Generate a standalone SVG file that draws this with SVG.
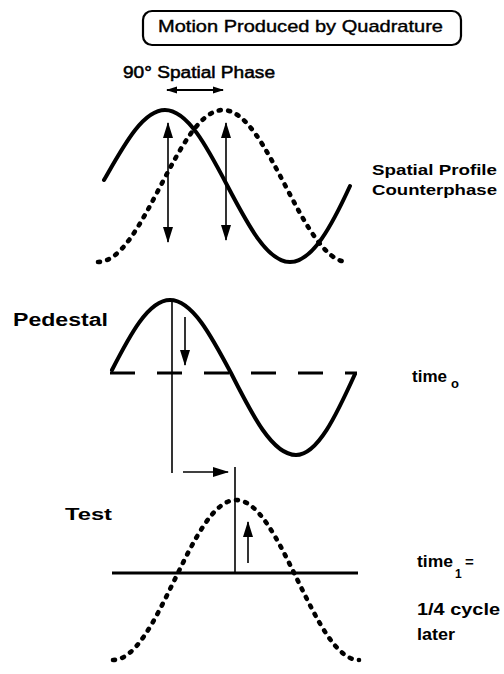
<svg xmlns="http://www.w3.org/2000/svg" width="504" height="674" viewBox="0 0 504 674">
<style>
.t{font-family:"Liberation Sans",Arial,sans-serif;fill:#000}
.b{font-weight:bold}
.solid{fill:none;stroke:#000;stroke-width:4;stroke-linecap:round}
.dot{fill:none;stroke:#000;stroke-width:4.6;stroke-linecap:round;stroke-dasharray:2 7.5}
.thin{fill:none;stroke:#000;stroke-width:1.6}
.ar{fill:none;stroke:#000;stroke-width:1.6}
</style>
<defs>
<marker id="ah" markerUnits="userSpaceOnUse" markerWidth="16" markerHeight="12" viewBox="0 0 16 12" refX="15" refY="6" orient="auto-start-reverse">
<path d="M0,1 L16,6 L0,11 Z" fill="#000"/>
</marker>
<marker id="ahs" markerUnits="userSpaceOnUse" markerWidth="11" markerHeight="8" viewBox="0 0 11 8" refX="10" refY="4" orient="auto-start-reverse">
<path d="M0,0.5 L11,4 L0,7.5 Z" fill="#000"/>
</marker>
</defs>
<rect width="504" height="674" fill="#fff"/>

<g id="title">
<rect x="143" y="11" width="318" height="34" rx="9" fill="none" stroke="#000" stroke-width="2.2"/>
<text class="t" x="158" y="32" font-size="17" textLength="285" lengthAdjust="spacingAndGlyphs" stroke="#000" stroke-width="0.4">Motion Produced by Quadrature</text>
</g>

<g id="phase-label">
<text class="t" x="123" y="78" font-size="16" textLength="152" lengthAdjust="spacingAndGlyphs" stroke="#000" stroke-width="0.5">90° Spatial Phase</text>
</g>

<g id="spatial-profile">
<path class="dot" d="M98,262 C120.6,262 140.1,224.9 160.5,186 C180.9,147.1 200.4,110 223,110 C245.6,110 265.1,147.1 285.5,186 C305.9,224.9 325.4,262 348,262"/>
<path class="solid" d="M104,180 C122.9,147.1 142.4,110 165,110 C187.6,110 207.1,147.1 227.5,186 C247.9,224.9 267.4,262 290,262 C312.6,262 332.1,224.9 350,186"/>
<text class="t b" x="372" y="175" font-size="15" textLength="125" lengthAdjust="spacingAndGlyphs">Spatial Profile</text>
<text class="t b" x="372" y="195" font-size="15" textLength="125" lengthAdjust="spacingAndGlyphs">Counterphase</text>
</g>

<g id="pedestal">
<text class="t b" x="13" y="326" font-size="18" textLength="95" lengthAdjust="spacingAndGlyphs">Pedestal</text>
<line x1="110" y1="373" x2="357" y2="373" stroke="#000" stroke-width="3" stroke-dasharray="25 22"/>
<path class="solid" d="M112,370 C129.6,335.6 148.3,300 170,300 C192.1,300 211.1,335.6 231,373 C252.2,415 272.5,455 296,455 C317.7,455 336.4,415 355,374"/>
<text class="t b" x="412" y="382" font-size="16" textLength="35" lengthAdjust="spacingAndGlyphs">time</text>
<text class="t b" x="451" y="388" font-size="13">o</text>
</g>

<g id="test">
<text class="t b" x="65" y="520" font-size="16" textLength="47" lengthAdjust="spacingAndGlyphs">Test</text>
<line x1="112" y1="573" x2="358" y2="573" stroke="#000" stroke-width="3"/>
<path class="dot" d="M113,660 C135.3,660 154.5,621 174.5,580 C194.5,539 213.7,500 236,500 C258.3,500 277.5,539 297.5,580 C317.5,621 336.7,660 359,660"/>
<text class="t b" x="417" y="567" font-size="16" textLength="36" lengthAdjust="spacingAndGlyphs">time</text>
<text class="t b" x="455" y="578" font-size="12">1</text>
<text class="t b" x="465" y="567" font-size="15">=</text>
<text class="t b" x="417" y="615" font-size="16" textLength="83" lengthAdjust="spacingAndGlyphs">1/4 cycle</text>
<text class="t b" x="417" y="640" font-size="16" textLength="38" lengthAdjust="spacingAndGlyphs">later</text>
</g>

<g id="connectors">
<line x1="167" y1="90" x2="223" y2="90" stroke="#000" stroke-width="2.2" marker-start="url(#ahs)" marker-end="url(#ahs)"/>
<line class="ar" x1="168" y1="123" x2="168" y2="242" marker-start="url(#ah)" marker-end="url(#ah)"/>
<line class="ar" x1="226" y1="123" x2="226" y2="240" marker-start="url(#ah)" marker-end="url(#ah)"/>
<line class="thin" x1="172" y1="300" x2="172" y2="473"/>
<line class="ar" x1="185" y1="317" x2="185" y2="365" marker-end="url(#ah)"/>
<line class="ar" x1="183" y1="472" x2="228" y2="472" marker-end="url(#ah)"/>
<line class="thin" x1="235" y1="467" x2="235" y2="573"/>
<line class="ar" x1="248" y1="563" x2="248" y2="522" marker-end="url(#ah)"/>
</g>
</svg>
